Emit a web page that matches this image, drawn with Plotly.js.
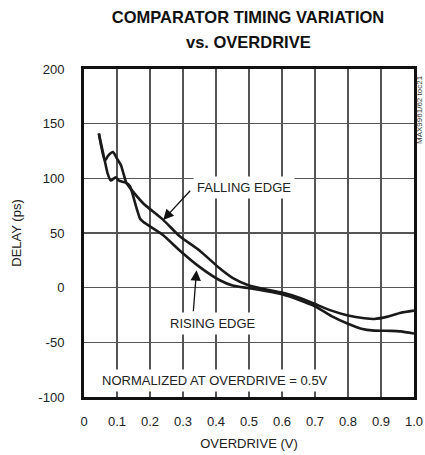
<!DOCTYPE html>
<html>
<head>
<meta charset="utf-8">
<script src="https://cdn.plot.ly/plotly-3.0.1.min.js"></script>
<style>html,body{margin:0;padding:0;background:#fff;}#chart{width:425px;height:455px;}</style>
</head>
<body>
<div id="chart"></div>
<script>
// Falling edge (upper curve in the middle range)
const fallingX = [0.045, 0.063, 0.074, 0.088, 0.100, 0.112, 0.120, 0.128, 0.140, 0.180, 0.240, 0.290, 0.350, 0.410, 0.450, 0.500, 0.550, 0.600, 0.650, 0.700, 0.750, 0.800, 0.850, 0.880, 0.920, 0.960, 1.000];
const fallingY = [141, 116, 121, 124, 118, 112, 104, 96, 91, 77, 62, 47, 34, 18, 9, 2, -1.5, -4.5, -9, -15, -21, -25.5, -28, -28.6, -26.5, -23, -21];
// Rising edge (lower curve in the middle range)
const risingX = [0.045, 0.063, 0.072, 0.081, 0.096, 0.106, 0.126, 0.139, 0.159, 0.170, 0.180, 0.240, 0.290, 0.350, 0.410, 0.450, 0.500, 0.550, 0.600, 0.650, 0.700, 0.750, 0.800, 0.840, 0.880, 0.930, 0.960, 1.000];
const risingY = [141, 116, 104, 98, 101, 98, 96, 93, 73, 63, 60, 48, 34, 19, 7, 2, -0.5, -3, -6, -11, -17, -26, -33, -37.5, -39.3, -39.5, -40, -42];

const xTicks = [0, 0.1, 0.2, 0.3, 0.4, 0.5, 0.6, 0.7, 0.8, 0.9, 1.0];
const xTickLabels = ['0', '0.1', '0.2', '0.3', '0.4', '0.5', '0.6', '0.7', '0.8', '0.9', '1.0'];
const yTicks = [-100, -50, 0, 50, 100, 150, 200];
const yTickLabels = ['-100', '-50', '0', '50', '100', '150', '200'];

const FONT = 'Arial, "Liberation Sans", Helvetica, sans-serif';
const lineStyle = {color: '#1a1a1a', width: 2.6, shape: 'spline', smoothing: 0.5};

const traces = [
  {x: fallingX, y: fallingY, type: 'scatter', mode: 'lines', name: 'FALLING EDGE', line: lineStyle, hoverinfo: 'skip'},
  {x: risingX, y: risingY, type: 'scatter', mode: 'lines', name: 'RISING EDGE', line: lineStyle, hoverinfo: 'skip'}
];

const layout = {
  width: 425, height: 455,
  margin: {l: 84, r: 11, t: 69, b: 58, pad: 0},
  paper_bgcolor: '#ffffff', plot_bgcolor: '#ffffff',
  showlegend: false,
  font: {family: FONT, color: '#222', size: 13},
  title: {
    text: '<b>COMPARATOR TIMING VARIATION</b>',
    font: {family: FONT, size: 16.5, color: '#111'},
    x: 0.497, xanchor: 'center', xref: 'paper',
    y: 0.9615, yanchor: 'middle', yref: 'container'
  },
  xaxis: {
    range: [0, 1], tickvals: xTicks, ticktext: xTickLabels,
    showgrid: true, gridcolor: '#555', gridwidth: 1.2,
    showline: true, mirror: true, linecolor: '#111', linewidth: 3,
    zeroline: false, ticks: '', ticklabelstandoff: 10,
    tickfont: {family: FONT, size: 13, color: '#222'},
    title: {text: 'OVERDRIVE (V)', font: {family: FONT, size: 13, color: '#222'}, standoff: 12},
    automargin: false, fixedrange: true
  },
  yaxis: {
    range: [-100, 200], tickvals: yTicks, ticktext: yTickLabels,
    showgrid: true, gridcolor: '#555', gridwidth: 1.2,
    showline: true, mirror: true, linecolor: '#111', linewidth: 3,
    zeroline: false, ticks: '', ticklabelstandoff: 14,
    tickfont: {family: FONT, size: 13, color: '#222'},
    title: {text: 'DELAY (ps)', font: {family: FONT, size: 13, color: '#222'}, standoff: 14},
    automargin: false, fixedrange: true
  },
  annotations: [
    {x: 0.497, y: 1.0808, xref: 'paper', yref: 'paper', text: '<b>vs. OVERDRIVE</b>', showarrow: false,
     font: {family: FONT, size: 16.5, color: '#111'}, xanchor: 'center', yanchor: 'middle'},
    {x: 0.485, y: 91.5, xref: 'x', yref: 'y', text: 'FALLING EDGE', showarrow: false,
     font: {family: FONT, size: 13, color: '#222'}, bgcolor: '#ffffff', borderpad: 3},
    {x: 0.24, y: 62, ax: 0.326, ay: 90, xref: 'x', yref: 'y', axref: 'x', ayref: 'y', text: '',
     showarrow: true, arrowhead: 2, arrowsize: 1.6, arrowwidth: 1.3, arrowcolor: '#111'},
    {x: 0.391, y: -33, xref: 'x', yref: 'y', text: 'RISING EDGE', showarrow: false,
     font: {family: FONT, size: 13, color: '#222'}, bgcolor: '#ffffff', borderpad: 3},
    {x: 0.341, y: 16, ax: 0.331, ay: -23, xref: 'x', yref: 'y', axref: 'x', ayref: 'y', text: '',
     showarrow: true, arrowhead: 2, arrowsize: 1.6, arrowwidth: 1.3, arrowcolor: '#111'},
    {x: 0.397, y: -85, xref: 'x', yref: 'y', text: 'NORMALIZED AT OVERDRIVE = 0.5V', showarrow: false,
     font: {family: FONT, size: 13, color: '#222'}, bgcolor: '#ffffff', borderpad: 3},
    {x: 1.015, y: 0.878, xref: 'paper', yref: 'paper', text: 'MAX9961/62 toc21', showarrow: false,
     textangle: -90, font: {family: FONT, size: 8, color: '#333'}, xanchor: 'center', yanchor: 'middle'}
  ]
};

Plotly.newPlot('chart', traces, layout, {staticPlot: true, displayModeBar: false});
</script>
</body>
</html>
